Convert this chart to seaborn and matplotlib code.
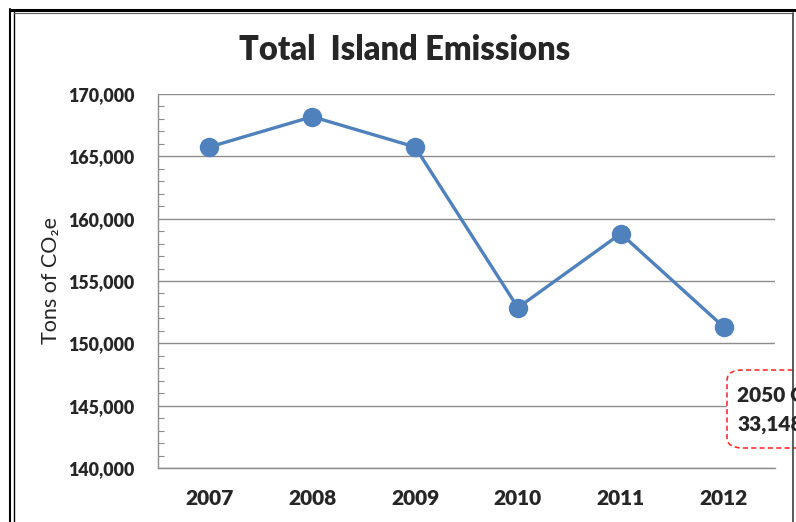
import numpy as np
import pandas as pd
import seaborn as sns
import matplotlib.pyplot as plt
from matplotlib.ticker import FuncFormatter, MultipleLocator
from matplotlib.patches import FancyBboxPatch
from matplotlib.lines import Line2D

# données
years = ['2007', '2008', '2009', '2010', '2011', '2012']
emissions = [165750, 168180, 165750, 152860, 158800, 151320]
y_ticks = [140000, 145000, 150000, 155000, 160000, 165000, 170000]

df = pd.DataFrame({'year': years, 'tons': emissions})

sns.set_style('white')
plt.rcParams['font.family'] = ['Lato', 'DejaVu Sans']
W = 'heavy'

fig = plt.figure(figsize=(7.96, 5.22), dpi=100)
ax = fig.add_axes([158 / 796, 1 - 468 / 522, (775 - 158) / 796, (468 - 94) / 522])

sns.lineplot(data=df, x='year', y='tons', ax=ax, color='#4F81BD', linewidth=2.4,
             marker='o', markersize=14, markeredgewidth=0, sort=False)

ax.set_xlim(-0.5, 5.5)
ax.set_ylim(140000, 170000)
ax.set_yticks(y_ticks)
ax.yaxis.set_minor_locator(MultipleLocator(1000))
ax.yaxis.set_major_formatter(FuncFormatter(lambda v, p: f'{int(v):,}'))
ax.grid(axis='y', color='#8c8c8c', linewidth=1)
ax.set_axisbelow(True)

for s in ['top', 'right']:
    ax.spines[s].set_visible(False)
for s in ['left', 'bottom']:
    ax.spines[s].set_color('#8c8c8c')
    ax.spines[s].set_linewidth(1)

ax.tick_params(axis='y', which='both', direction='in', color='#8c8c8c', left=True)
ax.tick_params(axis='y', which='minor', length=4, width=0.8)
ax.tick_params(axis='y', which='major', length=0, pad=17, labelsize=12.8)
ax.tick_params(axis='x', length=0, pad=15, labelsize=15)
for lab in ax.get_yticklabels():
    lab.set_fontweight(W)
for lab in ax.get_xticklabels():
    lab.set_fontweight(W)

ax.set_xlabel('')
ax.set_ylabel('Tons of CO\u2082e', fontsize=15.5, labelpad=5)

fig.text(405 / 796, 1 - 50 / 522, 'Total  Island Emissions', ha='center', va='center',
         fontsize=23.5, fontweight=W)

# cadre extérieur
fig.add_artist(Line2D([10 / 796, 10 / 796], [0, 1 - 9 / 522], color='black', lw=1.5))
fig.add_artist(Line2D([13.5 / 796, 13.5 / 796], [0, 1 - 12 / 522], color='black', lw=1))
fig.add_artist(Line2D([10 / 796, 1], [1 - 10 / 522, 1 - 10 / 522], color='black', lw=2.2))
fig.add_artist(Line2D([13.5 / 796, 793 / 796], [1 - 13 / 522, 1 - 13 / 522], color='#606060', lw=0.8))
fig.add_artist(Line2D([793 / 796, 793 / 796], [0, 1 - 13 / 522], color='#404040', lw=1.2))

# encadré objectif 2050 (coupé par le bord, comme sur l'original)
box = FancyBboxPatch((727 / 796, 1 - 448 / 522), 90 / 796, 78 / 522,
                     boxstyle='round,pad=0,rounding_size=0.02', transform=fig.transFigure,
                     facecolor='white', edgecolor='#ff3030', linestyle=(0, (3, 2)), lw=1.2)
fig.add_artist(box)
fig.text(737 / 796, 1 - 396 / 522, '2050 Goal:', fontsize=15, fontweight=W, va='center')
fig.text(737 / 796, 1 - 424 / 522, '33,148', fontsize=15, fontweight=W, va='center')

fig.savefig('out.png', dpi=100)
